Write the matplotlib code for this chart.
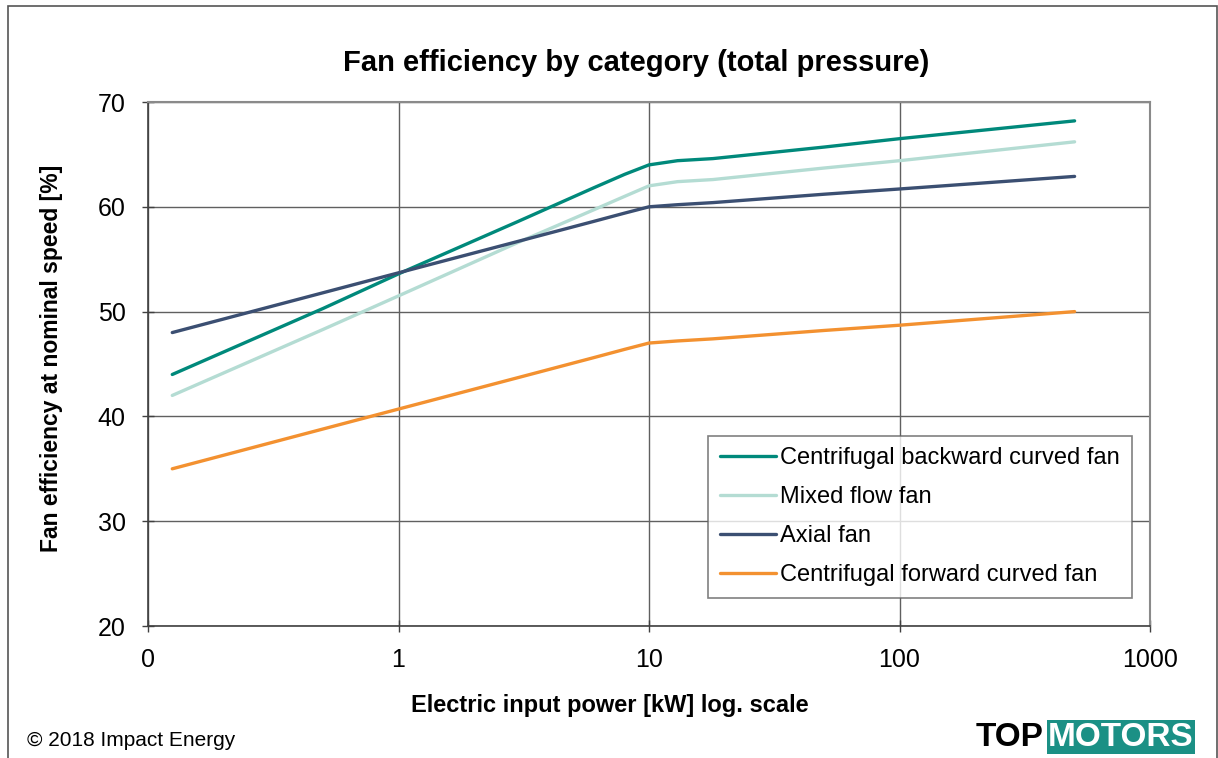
import matplotlib.pyplot as plt
from matplotlib.patches import Rectangle

plt.rcParams['font.family'] = ['Liberation Sans', 'DejaVu Sans']

# Werte
power_kw = [0.125, 0.5, 1, 3, 6, 8, 10, 13, 18, 50, 100, 500]
backward = [44.0, 50.3, 53.6, 58.6, 61.8, 63.1, 64.0, 64.4, 64.6, 65.7, 66.5, 68.2]
mixed = [42.0, 48.3, 51.5, 56.6, 59.7, 61.0, 62.0, 62.4, 62.6, 63.7, 64.4, 66.2]
axial = [48.0, 51.8, 53.7, 56.7, 58.6, 59.4, 60.0, 60.2, 60.4, 61.2, 61.7, 62.9]
forward = [35.0, 38.8, 40.7, 43.7, 45.6, 46.4, 47.0, 47.2, 47.4, 48.2, 48.7, 50.0]

series_names = ["Centrifugal backward curved fan", "Mixed flow fan",
                "Axial fan", "Centrifugal forward curved fan"]
series_colors = ["#00897B", "#B4DCD3", "#3B4F72", "#F39130"]

x_ticks = [0.1, 1, 10, 100, 1000]
x_tick_labels = ["0", "1", "10", "100", "1000"]
y_ticks = [20, 30, 40, 50, 60, 70]

fig = plt.figure(figsize=(12.18, 7.58), dpi=100)
ax = fig.add_axes([148 / 1218, 1 - 626 / 758, 1002 / 1218, 524 / 758])

for vals, name, col in zip([backward, mixed, axial, forward], series_names, series_colors):
    ax.plot(power_kw, vals, color=col, lw=2.4, label=name,
            solid_joinstyle='round', solid_capstyle='round', zorder=3)

ax.set_xscale('log')
ax.set_xlim(0.1, 1000)
ax.set_ylim(20, 70)
ax.set_xticks(x_ticks)
ax.set_xticklabels(x_tick_labels)
ax.minorticks_off()
ax.set_yticks(y_ticks)
ax.tick_params(axis='both', labelsize=18, direction='inout', length=8,
               width=1, color='#404040')
ax.tick_params(axis='y', pad=12)
ax.tick_params(axis='x', pad=12)
ax.grid(True, color='#606060', lw=1, zorder=1)

for side in ['top', 'right']:
    ax.spines[side].set_color('#8a8a8a')
    ax.spines[side].set_linewidth(1.5)
for side in ['left', 'bottom']:
    ax.spines[side].set_color('#404040')
    ax.spines[side].set_linewidth(1.2)

ax.set_xlabel("Electric input power [kW] log. scale", fontsize=17,
              fontweight='bold')
ax.xaxis.set_label_coords(0.461, -0.13)
ax.set_ylabel("Fan efficiency at nominal speed [%]", fontsize=16.5,
              fontweight='bold')
ax.yaxis.set_label_coords(-0.085, 0.51)
fig.text(636 / 1218, 1 - 63 / 758, "Fan efficiency by category (total pressure)",
         fontsize=21, fontweight='bold', ha='center', va='center')

leg = ax.legend(loc='lower right', bbox_to_anchor=(0.982, 0.053), fontsize=17,
                frameon=True, fancybox=False, edgecolor='#606060',
                handlelength=2.35, handletextpad=0.2, borderpad=0.5,
                labelspacing=0.72, borderaxespad=0)
leg.get_frame().set_linewidth(1.2)
leg.set_zorder(5)

# Rahmen um die ganze Grafik
fig.patches.append(Rectangle((8 / 1218, -0.01), 1209 / 1218, 1 - 6 / 758 + 0.01,
                             transform=fig.transFigure, fill=False,
                             edgecolor='#555555', lw=1.2))

fig.text(27 / 1218, 1 - 740 / 758, "\u00a9 2018 Impact Energy", fontsize=15,
         ha='left', va='center')

# Logo
fig.text(1043 / 1218, 1 - 737 / 758, "TOP", fontsize=24, fontweight='heavy',
         ha='right', va='center', color='black')
fig.text(1048 / 1218, 1 - 737 / 758, "MOTORS", fontsize=24, fontweight='bold',
         ha='left', va='center', color='white',
         bbox=dict(facecolor='#1B9085', edgecolor='none', pad=1))

fig.savefig("out.png", dpi=100)
